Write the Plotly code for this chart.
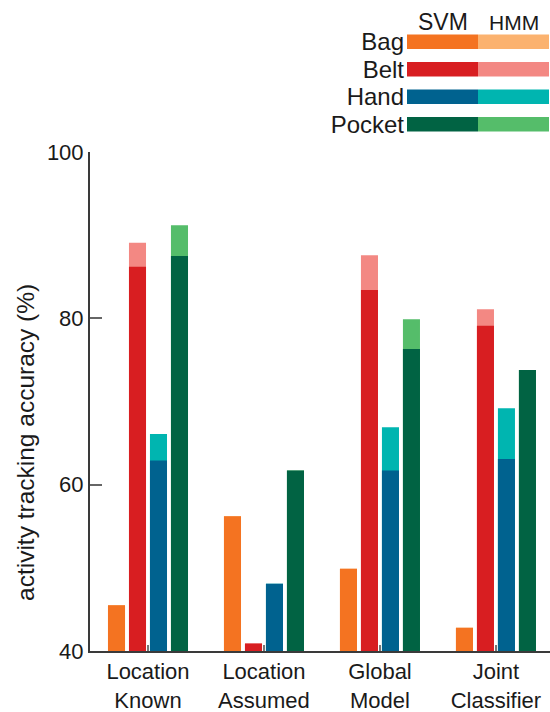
import plotly.graph_objects as go

# Classifier setups along the x axis
methods = ["Location<br>Known", "Location<br>Assumed", "Global<br>Model", "Joint<br>Classifier"]
locations = ["Bag", "Belt", "Hand", "Pocket"]
key_headers = ["SVM", "HMM"]

# Accuracy (%) per device location, SVM alone and with HMM smoothing
svm_bag = [45.5, 56.2, 49.9, 42.8]
hmm_bag = [45.5, 56.2, 49.9, 42.8]
svm_belt = [86.2, 40.9, 83.4, 79.1]
hmm_belt = [89.1, 40.9, 87.6, 81.1]
svm_hand = [62.9, 48.1, 61.7, 63.1]
hmm_hand = [66.1, 48.1, 66.9, 69.2]
svm_pocket = [87.5, 61.7, 76.3, 73.8]
hmm_pocket = [91.2, 61.7, 79.9, 73.8]

y_ticks = [40, 60, 80, 100]

svm_colors = ["#F47321", "#D81E21", "#00628F", "#016343"]
hmm_colors = ["#FBB26F", "#F38883", "#00B5B0", "#55BD6A"]

svm_series = [svm_bag, svm_belt, svm_hand, svm_pocket]
hmm_series = [hmm_bag, hmm_belt, hmm_hand, hmm_pocket]

FONT = "Liberation Sans, Arial, sans-serif"
TXT = "#1a1a1a"
AX = "#3a3a3a"

bar_w = 0.147
step = 0.181
xs = list(range(len(methods)))

fig = go.Figure()
for i, loc in enumerate(locations):
    off = (i - 1.5) * step - bar_w / 2
    # HMM bar drawn first, SVM bar over it
    fig.add_trace(go.Bar(x=xs, y=hmm_series[i], width=bar_w, offset=off,
                         marker=dict(color=hmm_colors[i], line=dict(width=0)),
                         showlegend=False, name=loc + " HMM"))
    fig.add_trace(go.Bar(x=xs, y=svm_series[i], width=bar_w, offset=off,
                         marker=dict(color=svm_colors[i], line=dict(width=0)),
                         showlegend=False, name=loc + " SVM"))

# Colour key as a small horizontal-bar subplot: SVM half then HMM half
fig.add_trace(go.Bar(y=locations, x=[1] * 4, base=[0] * 4, orientation="h",
                     marker=dict(color=svm_colors, line=dict(width=0)),
                     width=0.53, xaxis="x2", yaxis="y2", showlegend=False,
                     hoverinfo="skip"))
fig.add_trace(go.Bar(y=locations, x=[1] * 4, base=[1] * 4, orientation="h",
                     marker=dict(color=hmm_colors, line=dict(width=0)),
                     width=0.53, xaxis="x2", yaxis="y2", showlegend=False,
                     hoverinfo="skip"))

W, H = 550, 712
left, right = 90, 0
top, bot = 20, 61
pw = W - left - right
ph = H - top - bot


def ypaper(px):
    return (H - bot - px) / ph


def xpaper(px):
    return (px - left) / pw


# Column headers above the key
header_sizes = [23, 21]
for j, head in enumerate(key_headers):
    fig.add_annotation(text=head, x=j + 0.5, xref="x2", y=ypaper(22), yref="paper",
                       xanchor="center", yanchor="middle", showarrow=False,
                       font=dict(size=header_sizes[j], color=TXT, family=FONT))

# Vertical axis title
fig.add_annotation(text="activity tracking accuracy (%)", textangle=-90,
                   x=xpaper(25), xref="paper", y=ypaper(443), yref="paper",
                   xanchor="center", yanchor="middle", showarrow=False,
                   font=dict(size=24.5, color=TXT, family=FONT))

fig.update_layout(
    width=W, height=H,
    margin=dict(l=left, r=right, t=top, b=bot, autoexpand=False),
    paper_bgcolor="white", plot_bgcolor="white",
    barmode="overlay",
    font=dict(family=FONT, color=TXT),
    xaxis=dict(
        domain=[0, 1], range=[-0.5, 3.466],
        tickvals=xs, ticktext=methods,
        tickfont=dict(size=22, color=TXT),
        ticks="inside", ticklen=6, tickwidth=1.5, tickcolor="#777",
        showline=True, linecolor=AX, linewidth=2, automargin=False,
        showgrid=False, zeroline=False, fixedrange=True,
    ),
    yaxis=dict(
        domain=[0, ypaper(152)], range=[40, 100],
        tickvals=y_ticks, tickfont=dict(size=22, color=TXT),
        ticks="inside", ticklen=12, tickwidth=2, tickcolor="#666",
        showline=True, linecolor=AX, linewidth=2, automargin=False,
        showgrid=False, zeroline=False,
    ),
    xaxis2=dict(
        domain=[xpaper(407), xpaper(549)], range=[0, 2], anchor="y2",
        showticklabels=False, ticks="", automargin=False,
        showline=False, showgrid=False, zeroline=False,
    ),
    yaxis2=dict(
        domain=[ypaper(138), ypaper(28)], anchor="x2",
        autorange="reversed", type="category", automargin=False,
        tickmode="array", tickvals=locations, ticktext=locations,
        tickfont=dict(size=24, color=TXT), ticks="", ticklabelstandoff=2,
        showline=False, showgrid=False, zeroline=False,
    ),
)

fig.write_html("out.html")
